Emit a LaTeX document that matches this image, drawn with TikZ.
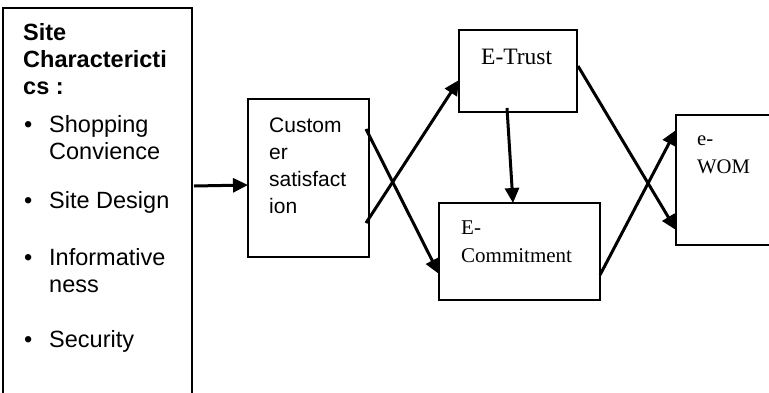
\documentclass[tikz,border=0pt]{standalone}
\usepackage{fontspec}
\setmainfont{Liberation Serif}
\newfontfamily\arialf{Liberation Sans}
\usetikzlibrary{arrows.meta}
\begin{document}
\begin{tikzpicture}[x=1pt,y=-1pt,
  boxst/.style={draw=black,line width=2.2pt},
  arr/.style={draw=black,line width=3pt,-{Triangle[length=15pt,width=14pt]}},
  lt/.style={inner sep=0pt,anchor=base west,font=\arialf\fontsize{23.5}{27}\selectfont},
  lbt/.style={inner sep=0pt,anchor=base west,font=\arialf\bfseries\fontsize{23.5}{27}\selectfont},
  ct/.style={inner sep=0pt,anchor=base west,font=\arialf\fontsize{21}{27}\selectfont},
  tt/.style={inner sep=0pt,anchor=base west,font=\fontsize{21}{26}\selectfont}]
\useasboundingbox (0,0) rectangle (769,392);
\fill[white] (0,0) rectangle (769,392);
% boxes
\draw[boxst] (3,398) -- (3,8) -- (192,8) -- (192,398);
\draw[boxst] (248,99) rectangle (369,257);
\draw[boxst] (459,30) rectangle (577,112);
\draw[boxst] (439,203) rectangle (600,300);
\draw[boxst] (780,115) -- (676,115) -- (676,245) -- (780,245);
% connector anchor points
\coordinate (siteout) at (194,186);
\coordinate (csin) at (248,185);
\coordinate (csA) at (366,223);
\coordinate (etin) at (459,80);
\coordinate (csB) at (366,129);
\coordinate (ecin) at (439,274);
\coordinate (etbot) at (507,108);
\coordinate (ectop) at (513,203);
\coordinate (etout) at (578,66);
\coordinate (ewin1) at (676,230);
\coordinate (ecout) at (600,275);
\coordinate (ewin2) at (676,130);
% left text
\node[lbt] (s1) at (23,40) {Site};
\node[lbt] (s2) at (23,67) {Charactericti};
\node[lbt] (s3) at (23,94) {cs :};
\node[lt] (b1) at (24,132) {•};
\node[lt] (l1) at (49,132) {Shopping};
\node[lt] (l2) at (49,159) {Convience};
\node[lt] (b2) at (24,208) {•};
\node[lt] (l3) at (49,208) {Site Design};
\node[lt] (b3) at (24,265) {•};
\node[lt] (l4) at (49,265) {Informative};
\node[lt] (l5) at (49,292) {ness};
\node[lt] (b4) at (24,347) {•};
\node[lt] (l6) at (49,347) {Security};
% customer satisfaction text
\node[ct] (c1) at (269,132) {Custom};
\node[ct] (c2) at (269,159) {er};
\node[ct] (c3) at (269,186) {satisfact};
\node[ct] (c4) at (269,213) {ion};
% E-Trust etc
\node[tt,font=\fontsize{23.5}{28}\selectfont] (t1) at (481,64) {E-Trust};
\node[tt] (m1) at (461,234) {E-};
\node[tt] (m2) at (461,262) {Commitment};
\node[tt,font=\fontsize{20.7}{26}\selectfont] (w1) at (697,145) {e-};
\node[tt,font=\fontsize{20.7}{26}\selectfont] (w2) at (697,173) {WOM};
% arrows
\draw[arr] (siteout) -- (csin);
\draw[arr] (csA) -- (etin);
\draw[arr] (csB) -- (ecin);
\draw[arr] (etbot) -- (ectop);
\draw[arr] (etout) -- (ewin1);
\draw[arr] (ecout) -- (ewin2);
\end{tikzpicture}
\end{document}
